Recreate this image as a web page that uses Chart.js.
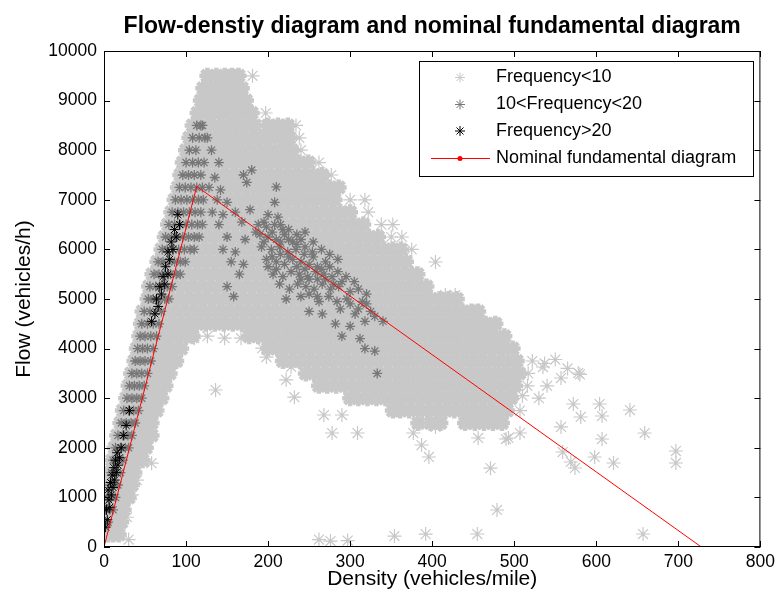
<!DOCTYPE html>
<html>
<head>
<meta charset="utf-8">
<script src="https://cdn.jsdelivr.net/npm/chart.js@4.4.0/dist/chart.umd.min.js"></script>
<style>
  html, body { margin: 0; padding: 0; background: #fff; }
  #wrap { width: 780px; height: 601px; }
</style>
</head>
<body>
<div id="wrap"><canvas id="fd" width="780" height="601"></canvas></div>
<script>
// density (vehicles/mile) vs flow (vehicles/h)
// dense part of the Frequency<10 cloud, one row per flow level: [flow, [densities]]
const lightRows = [
    [9500, [126, 137, 147, 156, 164]],
    [9250, [121, 130, 140, 150, 160, 168]],
    [9000, [118, 127, 137, 147, 157, 166, 173]],
    [8750, [114, 124, 134, 144, 154, 164, 174, 180]],
    [8500, [108, 118, 129, 140, 151, 162, 173, 184, 200, 212, 224]],
    [8250, [104, 114, 125, 136, 147, 158, 169, 180, 191, 202, 214, 226]],
    [8000, [100, 109, 120, 131, 142, 153, 164, 175, 186, 197, 208, 219, 229]],
    [7750, [96, 106, 117, 128, 139, 150, 161, 172, 183, 194, 205, 216, 227, 238, 249]],
    [7500, [93, 101, 112, 123, 134, 145, 156, 167, 178, 189, 200, 211, 222, 233, 244, 255, 266]],
    [7250, [90, 99, 110, 121, 132, 143, 154, 165, 176, 187, 198, 209, 220, 231, 242, 253, 264, 275, 286]],
    [7000, [86, 94, 105, 116, 127, 138, 149, 160, 171, 182, 193, 204, 215, 226, 237, 248, 259, 270, 281]],
    [6750, [82, 90, 101, 112, 123, 134, 145, 156, 167, 178, 189, 200, 211, 222, 233, 244, 255, 266, 277, 288, 300]],
    [6500, [78, 85, 96, 107, 118, 129, 140, 151, 162, 173, 184, 195, 206, 217, 228, 239, 250, 261, 272, 283, 294, 305, 316]],
    [6250, [74, 81, 92, 103, 114, 125, 136, 147, 158, 169, 180, 191, 202, 213, 224, 235, 246, 257, 268, 279, 290, 301, 312, 323, 334]],
    [6000, [70, 77, 88, 99, 110, 121, 132, 143, 154, 165, 176, 187, 198, 209, 220, 231, 242, 253, 264, 275, 286, 297, 308, 319, 330, 341, 352, 362]],
    [5750, [65, 73, 83, 94, 105, 116, 127, 138, 149, 160, 171, 182, 193, 204, 215, 226, 237, 248, 259, 270, 281, 292, 303, 314, 325, 336, 347, 358, 368]],
    [5500, [59, 68, 78, 89, 100, 111, 122, 133, 144, 155, 166, 177, 188, 199, 210, 221, 232, 243, 254, 265, 276, 287, 298, 309, 320, 331, 342, 353, 364, 375, 382]],
    [5250, [55, 64, 73, 84, 95, 106, 117, 128, 139, 150, 161, 172, 183, 194, 205, 216, 227, 238, 249, 260, 271, 282, 293, 304, 315, 326, 337, 348, 359, 370, 381, 393]],
    [5000, [53, 60, 69, 79, 90, 101, 112, 123, 134, 145, 156, 167, 178, 189, 200, 211, 222, 233, 244, 255, 266, 277, 288, 299, 310, 321, 332, 343, 354, 365, 376, 387, 398, 409, 420, 430]],
    [4750, [47, 55, 64, 74, 85, 96, 107, 118, 129, 140, 151, 162, 173, 184, 195, 206, 217, 228, 239, 250, 261, 272, 283, 294, 305, 316, 327, 338, 349, 360, 371, 382, 393, 404, 415, 426, 437, 448, 456]],
    [4500, [45, 52, 60, 69, 80, 91, 102, 113, 124, 135, 146, 157, 168, 179, 190, 201, 212, 223, 234, 245, 256, 267, 278, 289, 300, 311, 322, 333, 344, 355, 366, 377, 388, 399, 410, 421, 432, 443, 454, 465, 477]],
    [4250, [43, 50, 58, 67, 78, 89, 100, 108, 177, 188, 199, 210, 221, 232, 243, 254, 265, 276, 287, 298, 309, 320, 331, 342, 353, 364, 375, 386, 397, 408, 419, 430, 441, 452, 463, 474, 488]],
    [4000, [40, 47, 55, 64, 73, 83, 94, 200, 211, 222, 233, 244, 255, 266, 277, 288, 299, 310, 321, 332, 343, 354, 365, 376, 387, 398, 409, 420, 431, 442, 453, 464, 475, 486, 498]],
    [3750, [37, 44, 52, 61, 70, 79, 88, 218, 228, 239, 250, 261, 272, 283, 294, 305, 316, 327, 338, 349, 360, 371, 382, 393, 404, 415, 426, 437, 448, 459, 470, 481, 492, 503]],
    [3500, [33, 41, 49, 57, 65, 73, 80, 246, 256, 267, 278, 289, 300, 311, 322, 333, 344, 355, 366, 377, 388, 399, 410, 421, 432, 443, 454, 465, 476, 487, 498, 506]],
    [3250, [30, 38, 46, 54, 62, 69, 75, 262, 272, 283, 294, 305, 316, 327, 338, 349, 360, 371, 382, 393, 404, 415, 426, 437, 448, 459, 470, 481, 492, 501]],
    [3000, [27, 35, 43, 51, 59, 66, 70, 300, 310, 321, 332, 343, 354, 365, 376, 387, 398, 409, 420, 431, 442, 453, 464, 475, 486, 496]],
    [2750, [23, 31, 39, 47, 55, 64, 352, 361, 372, 383, 394, 405, 416, 427, 438, 449, 460, 471, 482, 491]],
    [2500, [20, 28, 36, 44, 52, 58, 383, 398, 410, 440, 452, 463, 474, 485]],
    [2250, [16, 24, 32, 40, 48, 52, 58]],
    [2000, [13, 21, 29, 37, 44, 51]],
    [1750, [10, 18, 26, 34, 41, 47]],
    [1500, [8, 16, 24, 31, 37]],
    [1250, [6, 13, 20, 27, 34]],
    [1000, [4, 11, 18, 25, 30]],
    [750, [1, 8, 15, 21, 24]],
    [500, [0, 6, 12, 18, 21]],
    [250, [0, 5, 11, 18]],
];

// isolated Frequency<10 points: [density, flow]
const lightSparse = [
    [181, 9500], [197, 8750], [234, 8500], [238, 8250], [240, 8000], [262, 7750], [277, 7500],
    [300, 7000], [318, 7000], [322, 6750], [338, 6500], [352, 6500], [350, 6250], [363, 6250],
    [375, 6000], [404, 5746], [416, 5080], [428, 5080],
    [136, 3165], [58, 1690], [232, 3020], [222, 3370], [228, 3630], [198, 3830], [193, 4010],
    [110, 4210], [126, 4250], [147, 4210], [167, 4210],
    [522, 3750], [537, 3700], [550, 3780], [565, 3600], [578, 3508], [535, 3629], [517, 3500],
    [557, 3407], [580, 3480], [516, 3250], [540, 3250], [510, 3050], [530, 3000], [572, 2883],
    [604, 2883], [581, 2621], [607, 2641], [641, 2762], [507, 2750],
    [268, 2661], [290, 2661], [404, 2420], [557, 2420], [278, 2298], [309, 2298], [377, 2298],
    [507, 2298], [659, 2298], [456, 2198], [490, 2177], [493, 2198], [607, 2177], [387, 2056],
    [559, 1915], [697, 1935], [396, 1815], [598, 1815], [569, 1714], [621, 1694], [697, 1694],
    [471, 1590], [574, 1593], [479, 746], [455, 262], [657, 262], [392, 260], [354, 220],
    [297, 130], [276, 120], [262, 150],
    [30, 150], [34, 1050], [40, 1350], [28, 600],
];

// 10<Frequency<20, rising branch band: [flow, [densities]]
const darkRows = [
    [500, [1, 5]], [750, [2, 7, 11]], [1000, [4, 9, 14]], [1250, [7, 12, 17]],
    [1500, [9, 14, 20]], [1750, [11, 17, 23]], [2000, [14, 20, 26, 30]],
    [2250, [17, 23, 29, 34]], [2500, [21, 27, 33, 38]], [2750, [24, 30, 36, 42]],
    [3000, [28, 34, 40, 46]], [3250, [31, 37, 43, 49]], [3500, [34, 40, 46, 53]],
    [3750, [38, 44, 50, 57]], [4000, [41, 47, 53, 60]], [4250, [44, 50, 57, 64]],
    [4500, [46, 53, 60, 67]], [4750, [49, 56, 63, 70]], [5000, [54, 60, 67, 74, 79]],
    [5250, [56, 63, 70, 77, 83]], [5500, [61, 67, 74, 81, 88, 93]],
    [5750, [66, 72, 79, 86, 93, 99]], [6000, [71, 77, 84, 91, 98, 105, 110]],
    [6250, [75, 82, 89, 96, 103, 110, 116]], [6500, [79, 86, 93, 100, 107, 114, 120]],
    [6750, [83, 90, 97, 104, 111, 118]], [7000, [87, 94, 101, 108, 115, 121]],
    [7250, [92, 99, 106, 113, 120]], [7500, [96, 103, 110, 118]], [7750, [100, 108, 115]],
    [8000, [104, 112]], [8250, [108, 116, 123]], [8500, [113, 120]],
];

// 10<Frequency<20, congested branch: [density, flow]
const darkSparse = [
    [118, 8500], [126, 8250], [131, 8000], [122, 7750], [140, 7750], [135, 7450], [170, 7500],
    [180, 7600], [128, 7250], [142, 7200], [174, 7350], [210, 7260], [138, 7000], [150, 6950],
    [208, 6950], [132, 6750], [145, 6700], [160, 6750], [178, 6800], [200, 6700], [212, 6650],
    [140, 6500], [168, 6550], [188, 6500], [198, 6450], [208, 6500], [218, 6400],
    [150, 6250], [172, 6200], [190, 6300], [200, 6250], [210, 6200], [220, 6300], [230, 6150], [240, 6200],
    [145, 6000], [160, 5950], [192, 6050], [204, 6000], [214, 6050], [224, 5950], [234, 6000], [244, 5900], [254, 5950],
    [155, 5750], [170, 5700], [198, 5800], [210, 5750], [220, 5700], [230, 5800], [240, 5750], [250, 5700], [260, 5650], [270, 5750],
    [165, 5500], [206, 5500], [218, 5450], [228, 5550], [238, 5500], [248, 5450], [258, 5550], [268, 5500], [278, 5450],
    [150, 5250], [214, 5300], [226, 5200], [236, 5300], [246, 5250], [256, 5200], [266, 5300], [276, 5200], [286, 5250], [300, 5150],
    [158, 5050], [222, 5000], [240, 5050], [262, 4950], [274, 5050], [284, 4950], [296, 5000], [320, 4900],
    [250, 4750], [266, 4700], [288, 4800], [306, 4700], [325, 4750],
    [282, 4500], [300, 4450], [318, 4550], [290, 4250], [312, 4200], [318, 4000], [330, 3950], [333, 3500],
    [195, 6150], [205, 6350], [215, 6150], [225, 6200], [235, 6100], [245, 6050], [185, 6350],
    [195, 6550], [215, 6500], [225, 6400], [235, 6300], [245, 6350], [255, 6150], [265, 6000],
    [275, 5900], [285, 5800], [255, 5850], [265, 5600], [275, 5650], [285, 5550], [295, 5450],
    [305, 5350], [245, 5600], [235, 5650], [225, 5850], [215, 5900], [205, 5850], [210, 5600],
    [200, 5650], [290, 5350], [310, 5200], [320, 5100], [280, 5300], [270, 5400], [260, 5400],
    [250, 5400], [240, 5400], [300, 4900], [310, 4800], [330, 4650], [340, 4550], [315, 4950],
    [260, 5050], [250, 5100],
];

// Frequency>20: [density, flow]
const blackPts = [
    [2, 400], [4, 550], [3, 750], [7, 800], [6, 950], [9, 1050], [5, 1150], [11, 1200],
    [8, 1300], [13, 1350], [10, 1450], [15, 1500], [12, 1600], [17, 1650], [14, 1750],
    [19, 1800], [16, 1900], [21, 2000], [24, 2250], [27, 2450], [31, 2750],
    [58, 4550], [62, 4700], [66, 4850], [64, 5000], [70, 5100], [68, 5250], [74, 5300],
    [72, 5450], [78, 5500], [75, 5650], [80, 5800], [78, 5950], [84, 6000], [82, 6150],
    [88, 6250], [86, 6400], [92, 6500], [90, 6700],
];

// nominal fundamental diagram (triangular)
const nominalDensity = [0, 113, 728];
const nominalFlow = [0, 7270, 0];

const FONT = "'Liberation Sans', Arial, Helvetica, sans-serif";
const LIGHT = '#c8c8c8';
const DARK = '#777777';

const rowsToPoints = rows => rows.flatMap(([flow, ds]) => ds.map(d => ({ x: d, y: flow })));
const pairsToPoints = pairs => pairs.map(([d, f]) => ({ x: d, y: f }));
const plainTick = v => String(v);

// MATLAB style box with inward ticks on all four sides
const boxFrame = {
    id: 'boxFrame',
    afterDatasetsDraw(chart) {
        const { ctx, chartArea: a, scales: { x, y } } = chart;
        const len = 6;
        ctx.save();
        ctx.strokeStyle = '#000';
        ctx.lineWidth = 1;
        ctx.strokeRect(a.left + 0.5, a.top + 0.5, a.right - a.left - 1, a.bottom - a.top - 1);
        ctx.beginPath();
        x.ticks.forEach(t => {
            const px = Math.round(x.getPixelForValue(t.value)) + 0.5;
            ctx.moveTo(px, a.bottom); ctx.lineTo(px, a.bottom - len);
            ctx.moveTo(px, a.top); ctx.lineTo(px, a.top + len);
        });
        y.ticks.forEach(t => {
            const py = Math.round(y.getPixelForValue(t.value)) + 0.5;
            ctx.moveTo(a.left, py); ctx.lineTo(a.left + len, py);
            ctx.moveTo(a.right, py); ctx.lineTo(a.right - len, py);
        });
        ctx.stroke();
        ctx.restore();
    },
};

// legend box in the upper right, like the figure
const boxLegend = {
    id: 'boxLegend',
    afterDraw(chart) {
        const ctx = chart.ctx;
        const sets = chart.data.datasets.filter(ds => ds.label);
        const rowsY = [77.5, 104.5, 131, 158];
        ctx.save();
        ctx.fillStyle = '#fff';
        ctx.fillRect(419, 61, 334, 115);
        ctx.strokeStyle = '#000';
        ctx.lineWidth = 1;
        ctx.strokeRect(419.5, 61.5, 334, 115);
        ctx.font = `18px ${FONT}`;
        ctx.textBaseline = 'middle';
        sets.forEach((ds, i) => {
            const cy = rowsY[i];
            if (ds.showLine) {
                ctx.strokeStyle = '#ff0000';
                ctx.lineWidth = 1;
                ctx.beginPath(); ctx.moveTo(431, cy + 0.5); ctx.lineTo(490, cy + 0.5); ctx.stroke();
                ctx.fillStyle = '#ff0000';
                ctx.beginPath(); ctx.arc(460, cy + 0.5, 2.5, 0, Math.PI * 2); ctx.fill();
            } else {
                ctx.strokeStyle = ds.borderColor;
                Chart.helpers.drawPoint(ctx, { pointStyle: 'star', radius: 5, rotation: 0, borderWidth: 1 }, 460, cy);
            }
            ctx.fillStyle = '#000';
            ctx.fillText(ds.label, 496, cy);
        });
        ctx.restore();
    },
};

const starSet = (label, data, color, radius, width, order) => ({
    label, data, order,
    pointStyle: 'star',
    borderColor: color,
    backgroundColor: 'transparent',
    pointRadius: radius,
    pointHoverRadius: radius,
    pointBorderWidth: width,
    pointHoverBorderWidth: width,
});

new Chart(document.getElementById('fd'), {
    type: 'scatter',
    data: {
        datasets: [
            starSet('Frequency<10', rowsToPoints(lightRows).concat(pairsToPoints(lightSparse)), LIGHT, 7, 1.2, 4),
            starSet('10<Frequency<20', rowsToPoints(darkRows).concat(pairsToPoints(darkSparse)), DARK, 5, 1.3, 3),
            starSet('Frequency>20', pairsToPoints(blackPts), '#000000', 5, 1, 2),
            {
                label: 'Nominal fundamental diagram',
                data: nominalDensity.map((d, i) => ({ x: d, y: nominalFlow[i] })),
                showLine: true,
                borderColor: '#ff0000',
                backgroundColor: '#ff0000',
                borderWidth: 1,
                pointRadius: 0,
                pointHoverRadius: 0,
                order: 1,
            },
            // the many overlapping markers of the dense cloud merge into one grey mass
            starSet('', rowsToPoints(lightRows), LIGHT, 8, 4.5, 5),
        ],
    },
    options: {
        responsive: false,
        animation: false,
        events: [],
        devicePixelRatio: 1,
        layout: { padding: { left: 0, right: 17, top: 0, bottom: 0 } },
        plugins: {
            legend: { display: false },
            tooltip: { enabled: false },
            title: {
                display: true,
                fullSize: false,
                text: 'Flow-denstiy diagram and nominal fundamental diagram',
                color: '#000',
                font: { family: FONT, size: 23, weight: 'bold' },
                padding: { top: 13, bottom: 10.4 },
            },
        },
        scales: {
            x: {
                type: 'linear', min: 0, max: 800,
                ticks: { stepSize: 100, color: '#000', font: { family: FONT, size: 17.5 }, padding: 5, maxRotation: 0, callback: plainTick },
                grid: { display: false, drawTicks: false },
                border: { display: false },
                title: { display: true, text: 'Density (vehicles/mile)', color: '#000', font: { family: FONT, size: 21 }, padding: { top: 0, bottom: 9 } },
                afterFit(scale) { scale.height = 54; },
            },
            y: {
                type: 'linear', min: 0, max: 10000,
                ticks: { stepSize: 1000, color: '#000', font: { family: FONT, size: 17.5 }, padding: 7, callback: plainTick },
                grid: { display: false, drawTicks: false },
                border: { display: false },
                title: { display: true, text: 'Flow (vehicles/h)', color: '#000', font: { family: FONT, size: 21 }, padding: { top: 12, bottom: 0 } },
                afterFit(scale) { scale.width = 104; },
            },
        },
    },
    plugins: [boxFrame, boxLegend],
});
</script>
</body>
</html>
